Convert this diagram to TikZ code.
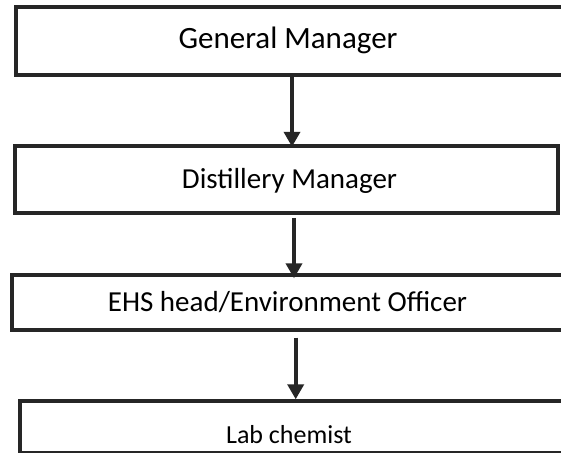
\documentclass[tikz,border=0pt]{standalone}
\usepackage{fontspec}
\setmainfont{Carlito}
\usetikzlibrary{arrows.meta}
\tikzset{
  orgbox/.style={draw=black!85, line width=4pt, fill=white, inner sep=0pt, rectangle},
  link/.style={draw=black!85, line width=4pt, -{Triangle[width=16pt,length=15pt]}}
}
\begin{document}
\begin{tikzpicture}[x=1pt,y=-1pt]
  \useasboundingbox (0,0) rectangle (561,452);
  \clip (0,0) rectangle (561,452);
  \fill[white] (0,0) rectangle (561,452);
  % hierarchy boxes
  \node[orgbox, minimum width=552pt, minimum height=67.7pt, font=\fontsize{31}{37}\selectfont]
    (gm) at (292,40.8) {\hspace*{-8pt}General Manager};
  \node[orgbox, minimum width=543pt, minimum height=67.3pt, font=\fontsize{29}{35}\selectfont]
    (dm) at (286.5,179.4) {\hspace*{6pt}\raisebox{-2pt}[\height][\depth]{Distillery Manager}};
  \node[orgbox, minimum width=556pt, minimum height=54.4pt, font=\fontsize{29}{35}\selectfont]
    (ehs) at (290,302.5) {\hspace*{-5pt}EHS head/Environment Officer};
  \node[orgbox, minimum width=548pt, minimum height=51.2pt, font=\fontsize{26}{31}\selectfont]
    (lab) at (294,426.9) {\hspace*{-10pt}\raisebox{-8pt}[\height][\depth]{Lab chemist}};
  % reporting lines
  \draw[link, shorten >=-3pt] ([xshift=0pt]gm.south) -- ([xshift=0pt]gm.south |- dm.north);
  \draw[link, shorten <=2.7pt, shorten >=-5pt] ([xshift=7.5pt]dm.south) -- ([xshift=7.5pt]dm.south |- ehs.north);
  \draw[link, shorten <=6pt] ([xshift=9.2pt]dm.south |- ehs.south) -- ([xshift=9.2pt]dm.south |- lab.north);
\end{tikzpicture}
\end{document}
